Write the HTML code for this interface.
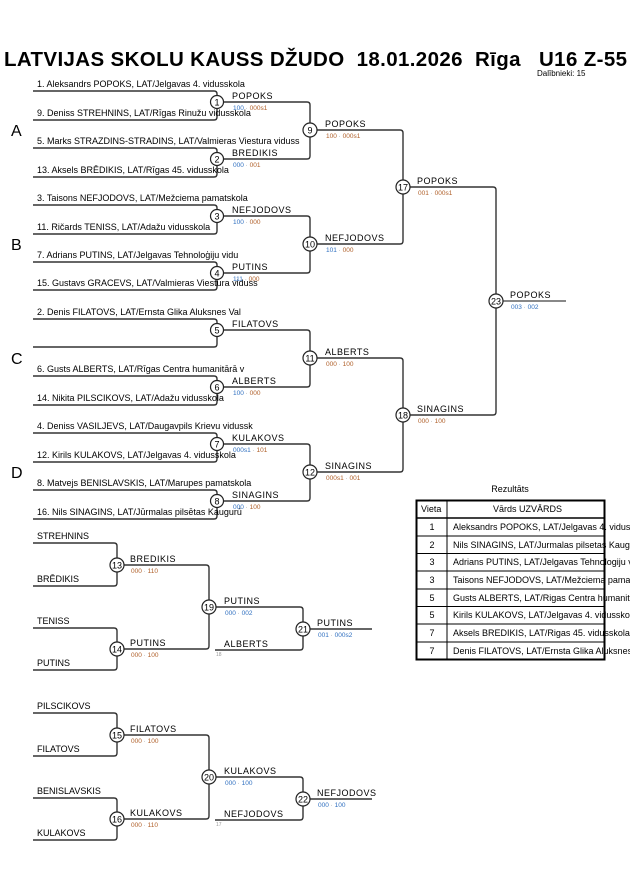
<!DOCTYPE html>
<html><head><meta charset="utf-8"><style>
html,body{margin:0;padding:0;background:#fff;width:630px;height:891px;overflow:hidden}
svg{display:block}
text{font-family:"Liberation Sans",sans-serif;fill:#000}
.e{font-size:9px}
.w{font-size:9px;letter-spacing:.5px}
.s{font-size:6.5px}
.a{fill:#b0602a}.b{fill:#3070c0}.g{fill:#999}
.l{fill:none;stroke:#333;stroke-width:1.4}
.c{fill:#fff;stroke:#222;stroke-width:1.2}
.n{font-size:9px;text-anchor:middle}
</style></head><body>
<svg width="630" height="891" viewBox="0 0 630 891">
<text x="4" y="66" xml:space="preserve" textLength="623" lengthAdjust="spacing" style="font-size:20.5px;font-weight:bold;white-space:pre">LATVIJAS SKOLU KAUSS DŽUDO  18.01.2026  Rīga   U16 Z-55</text>
<text x="537" y="76" style="font-size:8px">Dalībnieki: 15</text>
<g style="font-size:16px"><text x="11" y="136">A</text><text x="11" y="250">B</text><text x="11" y="364">C</text><text x="11" y="478">D</text></g>

<g class="l">
<path d="M33 91H214Q217 91 217 94V117Q217 120 214 120H33"/>
<path d="M33 148H214Q217 148 217 151V174Q217 177 214 177H33"/>
<path d="M33 205H214Q217 205 217 208V231Q217 234 214 234H33"/>
<path d="M33 262H214Q217 262 217 265V287Q217 290 214 290H33"/>
<path d="M33 319H214Q217 319 217 322V344Q217 347 214 347H33"/>
<path d="M33 376H214Q217 376 217 379V402Q217 405 214 405H33"/>
<path d="M33 433H214Q217 433 217 436V459Q217 462 214 462H33"/>
<path d="M33 490H214Q217 490 217 493V516Q217 519 214 519H33"/>
<path d="M217 102H307Q310 102 310 105V156Q310 159 307 159H217"/>
<path d="M217 216H307Q310 216 310 219V270Q310 273 307 273H217"/>
<path d="M217 330H307Q310 330 310 333V384Q310 387 307 387H217"/>
<path d="M217 444H307Q310 444 310 447V498Q310 501 307 501H217"/>
<path d="M310 130H400Q403 130 403 133V241Q403 244 400 244H310"/>
<path d="M310 358H400Q403 358 403 361V469Q403 472 400 472H310"/>
<path d="M403 187H493Q496 187 496 190V412Q496 415 493 415H403"/>
<path d="M496 301H566" style="stroke:#777;stroke-width:1.8"/>
<path d="M33 543H114Q117 543 117 546V583Q117 586 114 586H33"/>
<path d="M33 628H114Q117 628 117 631V667Q117 670 114 670H33"/>
<path d="M117 565H206Q209 565 209 568V646Q209 649 206 649H117"/>
<path d="M209 607H300Q303 607 303 610V647Q303 650 300 650H215"/>
<path d="M303 629H372"/>
<path d="M33 713H114Q117 713 117 716V753Q117 756 114 756H33"/>
<path d="M33 798H114Q117 798 117 801V837Q117 840 114 840H33"/>
<path d="M117 735H206Q209 735 209 738V816Q209 819 206 819H117"/>
<path d="M209 777H300Q303 777 303 780V817Q303 820 300 820H215"/>
<path d="M303 799H372"/>
</g>

<g class="e">
<text x="37" y="87">1. Aleksandrs POPOKS, LAT/Jelgavas 4. vidusskola</text>
<text x="37" y="116">9. Deniss STREHNINS, LAT/Rīgas Rinužu vidusskola</text>
<text x="37" y="144">5. Marks STRAZDINS-STRADINS, LAT/Valmieras Viestura viduss</text>
<text x="37" y="173">13. Aksels BRĒDIKIS, LAT/Rīgas 45. vidusskola</text>
<text x="37" y="201">3. Taisons NEFJODOVS, LAT/Mežciema pamatskola</text>
<text x="37" y="230">11. Ričards TENISS, LAT/Adažu vidusskola</text>
<text x="37" y="258">7. Adrians PUTINS, LAT/Jelgavas Tehnoloģiju vidu</text>
<text x="37" y="286">15. Gustavs GRACEVS, LAT/Valmieras Viestura viduss</text>
<text x="37" y="315">2. Denis FILATOVS, LAT/Ernsta Glika Aluksnes Val</text>
<text x="37" y="372">6. Gusts ALBERTS, LAT/Rīgas Centra humanitārā v</text>
<text x="37" y="401">14. Nikita PILSCIKOVS, LAT/Adažu vidusskola</text>
<text x="37" y="429">4. Deniss VASILJEVS, LAT/Daugavpils Krievu vidussk</text>
<text x="37" y="458">12. Kirils KULAKOVS, LAT/Jelgavas 4. vidusskola</text>
<text x="37" y="486">8. Matvejs BENISLAVSKIS, LAT/Marupes pamatskola</text>
<text x="37" y="515">16. Nils SINAGINS, LAT/Jūrmalas pilsētas Kaugurū</text>
<text x="37" y="539">STREHNINS</text><text x="37" y="582">BRĒDIKIS</text>
<text x="37" y="624">TENISS</text><text x="37" y="666">PUTINS</text>
<text x="37" y="709">PILSCIKOVS</text><text x="37" y="752">FILATOVS</text>
<text x="37" y="794">BENISLAVSKIS</text><text x="37" y="836">KULAKOVS</text>
</g>

<g class="w">
<text x="232" y="99">POPOKS</text><text x="232" y="156">BREDIKIS</text>
<text x="232" y="213">NEFJODOVS</text><text x="232" y="270">PUTINS</text>
<text x="232" y="327">FILATOVS</text><text x="232" y="384">ALBERTS</text>
<text x="232" y="441">KULAKOVS</text><text x="232" y="498">SINAGINS</text>
<text x="325" y="127">POPOKS</text><text x="325" y="241">NEFJODOVS</text>
<text x="325" y="355">ALBERTS</text><text x="325" y="469">SINAGINS</text>
<text x="417" y="184">POPOKS</text><text x="417" y="412">SINAGINS</text>
<text x="510" y="298">POPOKS</text>
<text x="130" y="562">BREDIKIS</text><text x="130" y="646">PUTINS</text>
<text x="224" y="604">PUTINS</text><text x="224" y="647">ALBERTS</text>
<text x="317" y="626">PUTINS</text>
<text x="130" y="732">FILATOVS</text><text x="130" y="816">KULAKOVS</text>
<text x="224" y="774">KULAKOVS</text><text x="224" y="817">NEFJODOVS</text>
<text x="317" y="796">NEFJODOVS</text>
</g>

<g class="s">
<text x="233" y="110"><tspan class="b">100</tspan><tspan class="g"> · </tspan><tspan class="a">000s1</tspan></text>
<text x="233" y="167"><tspan class="b">000</tspan><tspan class="g"> · </tspan><tspan class="a">001</tspan></text>
<text x="233" y="224"><tspan class="b">100</tspan><tspan class="g"> · </tspan><tspan class="a">000</tspan></text>
<text x="233" y="281"><tspan class="b">111</tspan><tspan class="g"> · </tspan><tspan class="a">000</tspan></text>
<text x="233" y="395"><tspan class="b">100</tspan><tspan class="g"> · </tspan><tspan class="a">000</tspan></text>
<text x="233" y="452"><tspan class="b">000s1</tspan><tspan class="g"> · </tspan><tspan class="a">101</tspan></text>
<text x="233" y="509"><tspan class="b">000</tspan><tspan class="g"> · </tspan><tspan class="a">100</tspan></text>
<text x="326" y="138"><tspan class="a">100</tspan><tspan class="g"> · </tspan><tspan class="a">000s1</tspan></text>
<text x="326" y="252"><tspan class="b">101</tspan><tspan class="g"> · </tspan><tspan class="a">000</tspan></text>
<text x="326" y="366"><tspan class="a">000</tspan><tspan class="g"> · </tspan><tspan class="a">100</tspan></text>
<text x="326" y="480"><tspan class="a">000s1</tspan><tspan class="g"> · </tspan><tspan class="a">001</tspan></text>
<text x="418" y="195"><tspan class="a">001</tspan><tspan class="g"> · </tspan><tspan class="a">000s1</tspan></text>
<text x="418" y="423"><tspan class="a">000</tspan><tspan class="g"> · </tspan><tspan class="a">100</tspan></text>
<text x="511" y="309"><tspan class="b">003</tspan><tspan class="g"> · </tspan><tspan class="b">002</tspan></text>
<text x="131" y="573"><tspan class="a">000</tspan><tspan class="g"> · </tspan><tspan class="a">110</tspan></text>
<text x="131" y="657"><tspan class="a">000</tspan><tspan class="g"> · </tspan><tspan class="a">100</tspan></text>
<text x="225" y="615"><tspan class="b">000</tspan><tspan class="g"> · </tspan><tspan class="b">002</tspan></text>
<text x="318" y="637"><tspan class="b">001</tspan><tspan class="g"> · </tspan><tspan class="b">000s2</tspan></text>
<text x="216" y="656" class="g" style="font-size:5px">18</text>
<text x="131" y="743"><tspan class="a">000</tspan><tspan class="g"> · </tspan><tspan class="a">100</tspan></text>
<text x="131" y="827"><tspan class="a">000</tspan><tspan class="g"> · </tspan><tspan class="a">110</tspan></text>
<text x="225" y="785"><tspan class="b">000</tspan><tspan class="g"> · </tspan><tspan class="b">100</tspan></text>
<text x="318" y="807"><tspan class="b">000</tspan><tspan class="g"> · </tspan><tspan class="b">100</tspan></text>
<text x="216" y="826" class="g" style="font-size:5px">17</text>
</g>

<g>
<circle class="c" cx="217" cy="102" r="6.5"/><text class="n" x="217" y="105.5">1</text>
<circle class="c" cx="217" cy="159" r="6.5"/><text class="n" x="217" y="162.5">2</text>
<circle class="c" cx="217" cy="216" r="6.5"/><text class="n" x="217" y="219.5">3</text>
<circle class="c" cx="217" cy="273" r="6.5"/><text class="n" x="217" y="276.5">4</text>
<circle class="c" cx="217" cy="330" r="6.5"/><text class="n" x="217" y="333.5">5</text>
<circle class="c" cx="217" cy="387" r="6.5"/><text class="n" x="217" y="390.5">6</text>
<circle class="c" cx="217" cy="444" r="6.5"/><text class="n" x="217" y="447.5">7</text>
<circle class="c" cx="217" cy="501" r="6.5"/><text class="n" x="217" y="504.5">8</text>
<circle class="c" cx="310" cy="130" r="7"/><text class="n" x="310" y="133.5">9</text>
<circle class="c" cx="310" cy="244" r="7"/><text class="n" x="310" y="247.5">10</text>
<circle class="c" cx="310" cy="358" r="7"/><text class="n" x="310" y="361.5">11</text>
<circle class="c" cx="310" cy="472" r="7"/><text class="n" x="310" y="475.5">12</text>
<circle class="c" cx="403" cy="187" r="7"/><text class="n" x="403" y="190.5">17</text>
<circle class="c" cx="403" cy="415" r="7"/><text class="n" x="403" y="418.5">18</text>
<circle class="c" cx="496" cy="301" r="7"/><text class="n" x="496" y="304.5">23</text>
<circle class="c" cx="117" cy="565" r="7"/><text class="n" x="117" y="568.5">13</text>
<circle class="c" cx="117" cy="649" r="7"/><text class="n" x="117" y="652.5">14</text>
<circle class="c" cx="209" cy="607" r="7"/><text class="n" x="209" y="610.5">19</text>
<circle class="c" cx="303" cy="629" r="7"/><text class="n" x="303" y="632.5">21</text>
<circle class="c" cx="117" cy="735" r="7"/><text class="n" x="117" y="738.5">15</text>
<circle class="c" cx="117" cy="819" r="7"/><text class="n" x="117" y="822.5">16</text>
<circle class="c" cx="209" cy="777" r="7"/><text class="n" x="209" y="780.5">20</text>
<circle class="c" cx="303" cy="799" r="7"/><text class="n" x="303" y="802.5">22</text>
</g>

<text x="510" y="492" style="font-size:9px;text-anchor:middle">Rezultāts</text>
<g style="stroke:#000;fill:none">
<rect x="416.5" y="500.5" width="188" height="159" style="stroke-width:2"/>
<line x1="417" y1="518" x2="604" y2="518" style="stroke-width:1.5"/>
<line x1="447" y1="501" x2="447" y2="659"/>
<line x1="417" y1="536" x2="604" y2="536"/><line x1="417" y1="553.5" x2="604" y2="553.5"/>
<line x1="417" y1="571" x2="604" y2="571"/><line x1="417" y1="589" x2="604" y2="589"/>
<line x1="417" y1="606.5" x2="604" y2="606.5"/><line x1="417" y1="624" x2="604" y2="624"/>
<line x1="417" y1="642" x2="604" y2="642"/>
</g>
<g class="e">
<text x="421" y="512">Vieta</text><text x="493" y="512">Vārds UZVĀRDS</text>
<g style="text-anchor:middle"><text x="432" y="530">1</text><text x="432" y="548">2</text><text x="432" y="565">3</text><text x="432" y="583">3</text><text x="432" y="601">5</text><text x="432" y="618">5</text><text x="432" y="636">7</text><text x="432" y="654">7</text></g>
<text x="453" y="530">Aleksandrs POPOKS, LAT/Jelgavas 4. vidusskola</text>
<text x="453" y="548">Nils SINAGINS, LAT/Jurmalas pilsetas Kaugurū</text>
<text x="453" y="565">Adrians PUTINS, LAT/Jelgavas Tehnologiju vidu</text>
<text x="453" y="583">Taisons NEFJODOVS, LAT/Mežciema pamatskola</text>
<text x="453" y="601">Gusts ALBERTS, LAT/Rigas Centra humanitarā</text>
<text x="453" y="618">Kirils KULAKOVS, LAT/Jelgavas 4. vidusskola</text>
<text x="453" y="636">Aksels BREDIKIS, LAT/Rigas 45. vidusskola</text>
<text x="453" y="654">Denis FILATOVS, LAT/Ernsta Glika Aluksnes Val</text>
</g>
</svg>
</body></html>
